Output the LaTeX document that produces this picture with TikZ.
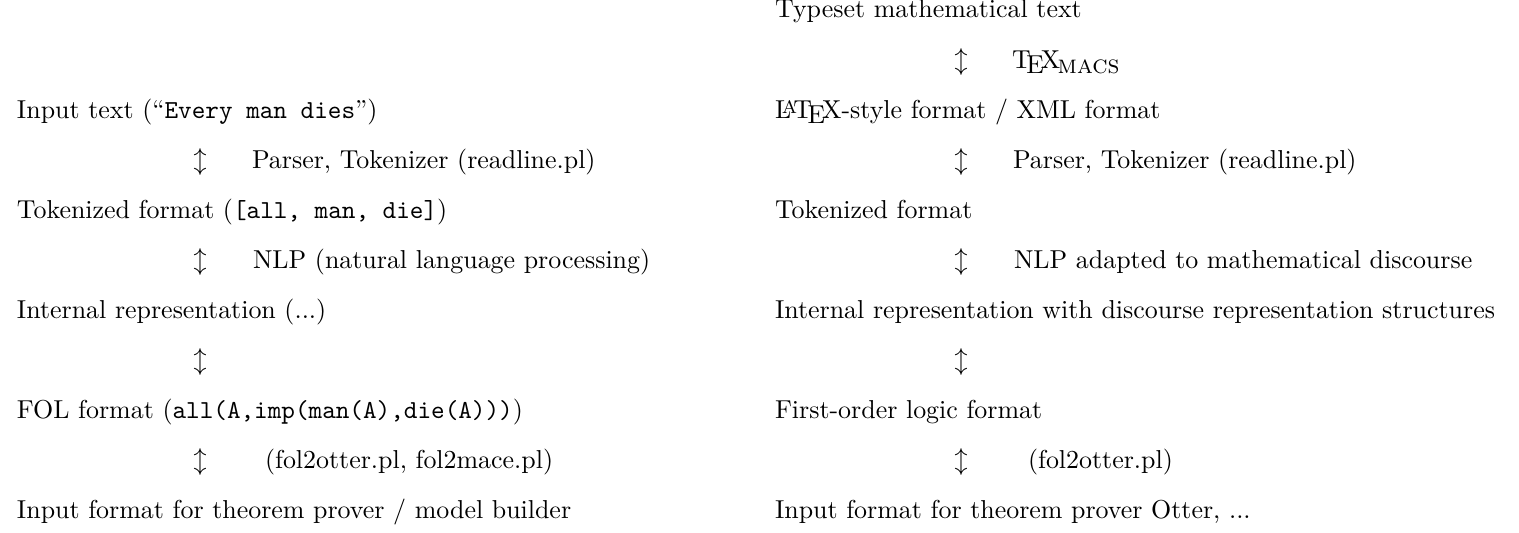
\documentclass[tikz,border=0pt]{standalone}
\newcommand{\TeXmacsLogo}{T\kern-.1667em\lower.5ex\hbox{E}\kern-.125emX\kern-.1em\lower.5ex\hbox{\textsc{macs}}}
\begin{document}
\begin{tikzpicture}[x=0.3858pt,y=-0.3858pt,
  txt/.style={anchor=base west, inner sep=0pt, outer sep=0pt},
  arr/.style={anchor=base, inner sep=0pt, outer sep=0pt}]
\useasboundingbox (0,0) rectangle (1519,533);
% left column
\node[txt] (l2) at (17,118.2) {Input text (``\texttt{Every man dies}'')};
\node[arr] (la3) at (200,168.3) {$\updownarrow$};
\node[txt] (lt3) at (252,168.3) {Parser, Tokenizer (readline.pl)};
\node[txt] (l4) at (17,218.4) {Tokenized format (\texttt{[all, man, die]})};
\node[arr] (la5) at (200,268.5) {$\updownarrow$};
\node[txt] (lt5) at (253,268.5) {NLP (natural language processing)};
\node[txt] (l6) at (17,318.6) {Internal representation (...)};
\node[arr] (la7) at (200,368.7) {$\updownarrow$};
\node[txt] (l8) at (17,418.8) {FOL format (\texttt{all(A,imp(man(A),die(A)))})};
\node[arr] (la9) at (200,468.9) {$\updownarrow$};
\node[txt] (lt9) at (265,468.9) {(fol2otter.pl, fol2mace.pl)};
\node[txt] (l10) at (17,519) {Input format for theorem prover / model builder};
% right column
\node[txt] (r0) at (775,18) {Typeset mathematical text};
\node[arr] (ra1) at (961,68.1) {$\updownarrow$};
\node[txt] (rt1) at (1012,68.1) {\TeXmacsLogo};
\node[txt] (r2) at (775,118.2) {\LaTeX-style format / XML format};
\node[arr] (ra3) at (961,168.3) {$\updownarrow$};
\node[txt] (rt3) at (1013,168.3) {Parser, Tokenizer (readline.pl)};
\node[txt] (r4) at (775,218.4) {Tokenized format};
\node[arr] (ra5) at (961,268.5) {$\updownarrow$};
\node[txt] (rt5) at (1014,268.5) {NLP adapted to mathematical discourse};
\node[txt] (r6) at (775,318.6) {Internal representation with discourse representation structures};
\node[arr] (ra7) at (961,368.7) {$\updownarrow$};
\node[txt] (r8) at (775,418.8) {First-order logic format};
\node[arr] (ra9) at (961,468.9) {$\updownarrow$};
\node[txt] (rt9) at (1028,468.9) {(fol2otter.pl)};
\node[txt] (r10) at (775,519) {Input format for theorem prover Otter, ...};
\end{tikzpicture}
\end{document}
